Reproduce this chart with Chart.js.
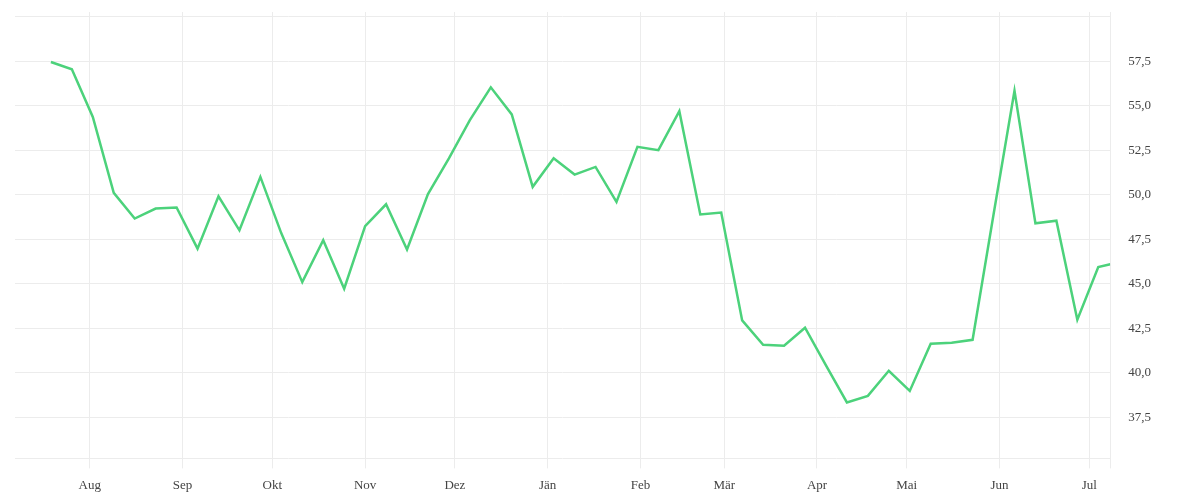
<!DOCTYPE html>
<html>
<head>
<meta charset="utf-8">
<script src="https://cdn.jsdelivr.net/npm/chart.js@4/dist/chart.umd.min.js"></script>
<style>
  body { margin: 0; background: #fff; }
  #wrap { width: 1200px; height: 500px; }
</style>
</head>
<body>
<div id="wrap"><canvas id="myChart" width="1200" height="500"></canvas></div>
<script>
// weekly dates, last one is a partial week
var fechas = [
  "2022-07-19", "2022-07-26", "2022-08-02", "2022-08-09", "2022-08-16", "2022-08-23", "2022-08-30",
  "2022-09-06", "2022-09-13", "2022-09-20", "2022-09-27", "2022-10-04", "2022-10-11", "2022-10-18",
  "2022-10-25", "2022-11-01", "2022-11-08", "2022-11-15", "2022-11-22", "2022-11-29", "2022-12-06",
  "2022-12-13", "2022-12-20", "2022-12-27", "2023-01-03", "2023-01-10", "2023-01-17", "2023-01-24",
  "2023-01-31", "2023-02-07", "2023-02-14", "2023-02-21", "2023-02-28", "2023-03-07", "2023-03-14",
  "2023-03-21", "2023-03-28", "2023-04-04", "2023-04-11", "2023-04-18", "2023-04-25", "2023-05-02",
  "2023-05-09", "2023-05-16", "2023-05-23", "2023-05-30", "2023-06-06", "2023-06-13", "2023-06-20",
  "2023-06-27", "2023-07-04", "2023-07-08"
];
var valores = [
  57.46, 57.05, 54.38, 50.11, 48.67, 49.23, 49.29, 46.98, 49.92, 48.01,
  51.01, 47.84, 45.10, 47.45, 44.73, 48.24, 49.47, 46.93, 50.04, 52.05,
  54.2, 56.04, 54.52, 50.45, 52.05, 51.14, 51.57, 49.6, 52.7, 52.51,
  54.7, 48.9, 49.01, 42.95, 41.58, 41.53, 42.54, 40.42, 38.34, 38.71,
  40.12, 38.99, 41.64, 41.70, 41.86, 48.9, 55.85, 48.4, 48.55, 42.99,
  45.95, 46.1
];
// month ticks on the x axis
var mesesFechas = [
  "2022-08-01", "2022-09-01", "2022-10-01", "2022-11-01", "2022-12-01", "2023-01-01",
  "2023-02-01", "2023-03-01", "2023-04-01", "2023-05-01", "2023-06-01", "2023-07-01"
];
var mesesNombres = ["Aug", "Sep", "Okt", "Nov", "Dez", "Jän", "Feb", "Mär", "Apr", "Mai", "Jun", "Jul"];
// y tick values with labels
var yTicks = [37.5, 40, 42.5, 45, 47.5, 50, 52.5, 55, 57.5];

var xMin = "2022-07-07", xMax = "2023-07-08";
var yMin = 35.2, yMax = 60.27, yTop = 60;

function ms(s) {
  return Date.parse(s + "T00:00:00Z");
}

var puntos = fechas.map(function (f, i) {
  return { x: ms(f), y: valores[i] };
});
var mesesMs = mesesFechas.map(ms);

var graficar = document.getElementById("myChart").getContext("2d");
var myChart = new Chart(graficar, {
  type: "line",
  data: {
    datasets: [
      {
        label: "Wert",
        data: puntos,
        borderColor: "#4cd27b",
        borderWidth: 2.5,
        pointRadius: 0,
        pointHoverRadius: 0,
        tension: 0,
        fill: false,
      },
    ],
  },
  options: {
    responsive: false,
    animation: false,
    layout: { padding: { left: 15, top: 12, right: 31, bottom: -2 } },
    plugins: { legend: { display: false }, tooltip: { enabled: false } },
    scales: {
      x: {
        type: "linear",
        min: ms(xMin),
        max: ms(xMax),
        afterBuildTicks: function (scale) {
          var t = mesesMs.map(function (v) { return { value: v }; });
          t.push({ value: ms(xMax) });
          scale.ticks = t;
        },
        afterFit: function (scale) {
          scale.paddingLeft = 0;
          scale.paddingRight = 0;
        },
        grid: { color: "#ececec", lineWidth: 1, tickLength: 10, drawTicks: true },
        border: { display: false },
        ticks: {
          autoSkip: false,
          maxRotation: 0,
          padding: 9,
          color: "#444",
          font: { family: "'Liberation Serif', serif", size: 13 },
          callback: function (value) {
            var i = mesesMs.indexOf(value);
            return i >= 0 ? mesesNombres[i] : "";
          },
        },
      },
      y: {
        position: "right",
        min: yMin,
        max: yMax,
        afterBuildTicks: function (scale) {
          var t = [{ value: yMin }];
          yTicks.forEach(function (v) { t.push({ value: v }); });
          t.push({ value: yTop });
          scale.ticks = t;
        },
        // no extra room for half labels at the ends
        afterFit: function (scale) {
          scale.paddingTop = 0;
          scale.paddingBottom = 0;
        },
        grid: { color: "#ececec", lineWidth: 1, drawTicks: false },
        border: { display: false },
        ticks: {
          padding: 18,
          color: "#444",
          font: { family: "'Liberation Serif', serif", size: 13 },
          callback: function (value) {
            if (yTicks.indexOf(value) < 0) return "";
            return value.toFixed(1).replace(".", ",");
          },
        },
      },
    },
  },
});
</script>
</body>
</html>
